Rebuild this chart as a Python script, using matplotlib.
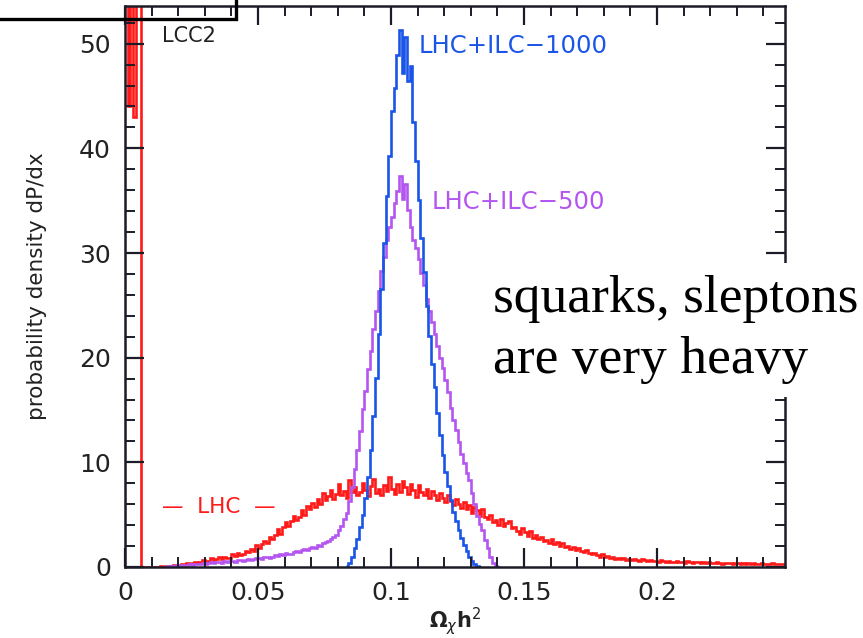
import numpy as np
import matplotlib
matplotlib.use("Agg")
import matplotlib.pyplot as plt
from matplotlib.patches import Rectangle
from matplotlib.ticker import MultipleLocator, FixedLocator

# ---- histogram data: probability density per 0.001 bin of Omega h^2 ----
BIN = 0.001

lhc_start = 0.0
lhc = [
    120, 44, 60, 43, 55, 80,
    0, 0, 0, 0, 0, 0, 0, 0.05, 0, 0.1,
    0.1, 0.05, 0.2, 0.15, 0.1, 0.3, 0.2, 0.35, 0.25, 0.4,
    0.5, 0.35, 0.45, 0.7, 0.5, 0.6, 0.85, 0.65, 0.75, 0.95,
    0.8, 1.0, 0.9, 0.85, 1.2, 1.05, 1.35, 1.1, 1.2, 1.5,
    1.45, 1.7, 1.55, 2.1, 1.8, 2.2, 2.5, 2.3, 2.9, 2.7,
    3.1, 3.6, 3.2, 3.8, 4.3, 3.9, 4.4, 4.9, 4.5, 4.8,
    5.4, 5.0, 5.8, 5.5, 6.1, 5.7, 6.5, 6.0, 7.1, 6.4,
    6.8, 7.4, 6.5, 7.0, 7.9, 6.9, 7.3, 6.6, 8.3, 7.2,
    7.6, 6.9, 7.2, 8.0, 7.4, 6.8, 7.7, 8.4, 7.1, 7.5,
    6.9, 7.8, 7.3, 8.6, 7.5, 7.0, 7.9, 7.2, 8.2, 7.6,
    7.0, 7.9, 7.4, 6.7, 7.8, 7.2, 6.9, 7.5, 6.6, 7.3,
    6.9, 6.4, 7.1, 6.6, 6.2, 6.9, 6.3, 5.9, 6.5, 6.0,
    5.6, 6.2, 5.5, 5.9, 5.2, 5.7, 5.4, 4.9, 5.5, 4.8,
    4.6, 5.0, 4.3, 4.5, 4.0, 4.6, 3.9, 4.2, 4.4, 3.7,
    3.8, 3.4, 3.2, 3.7, 3.3, 3.0, 3.4, 2.8, 3.1, 2.7,
    2.9, 2.5, 2.6, 2.3, 2.7, 2.2, 2.4, 2.0, 2.3, 1.9,
    2.0, 1.7, 1.9, 1.6, 1.8, 1.5, 1.4, 1.6, 1.3, 1.2,
    1.3, 1.1, 1.0, 1.2, 0.95, 1.05, 0.85, 0.95, 0.8, 0.9,
    0.75, 0.85, 0.7, 0.8, 0.65, 0.75, 0.7, 0.6, 0.75, 0.65,
    0.6, 0.7, 0.55, 0.6, 0.5, 0.65, 0.55, 0.5, 0.6, 0.45,
    0.5, 0.55, 0.45, 0.5, 0.4, 0.55, 0.45, 0.4, 0.5, 0.45,
    0.4, 0.5, 0.35, 0.45, 0.4, 0.35, 0.45, 0.4, 0.3, 0.4,
    0.35, 0.4, 0.3, 0.35, 0.4, 0.3, 0.35, 0.3, 0.4, 0.3,
    0.35, 0.3, 0.25, 0.35, 0.3, 0.25, 0.3, 0.35, 0.25, 0.3, 0.25, 0.3,
]

ilc500_start = 0.015
ilc500 = [
    0.05, 0.1, 0.05, 0.1, 0.15, 0.1, 0.2, 0.15, 0.2, 0.25,
    0.2, 0.3, 0.25, 0.3, 0.4, 0.3, 0.35, 0.45, 0.4, 0.5,
    0.45, 0.4, 0.55, 0.5, 0.6, 0.55, 0.5, 0.65, 0.7, 0.6,
    0.7, 0.8, 0.7, 0.75, 0.9, 0.85, 0.8, 0.95, 1.0, 0.9,
    1.0, 1.1, 1.05, 1.2, 1.1, 1.3, 1.25, 1.2, 1.4, 1.5,
    1.45, 1.6, 1.7, 1.6, 1.85, 1.9, 1.8, 2.1, 2.0, 2.3,
    2.4, 2.5, 2.7, 2.9, 3.1, 3.5, 3.9, 4.6, 5.2, 6.3,
    7.6, 9.4, 11.2, 13.0, 15.1, 16.8, 18.9, 20.6, 22.7, 24.5,
    26.4, 28.3, 29.6, 31.2, 32.5, 33.4, 34.8, 35.9, 37.4, 35.2,
    36.6, 34.1, 32.5, 31.2, 30.5, 29.4, 28.1, 26.9, 25.6, 24.5,
    23.4, 22.3, 21.1, 20.0, 19.0, 17.9, 16.7, 15.2, 14.0, 13.1,
    11.9, 10.8, 9.9, 9.0, 8.3, 7.1, 6.0, 4.9, 4.1, 3.5,
    2.6, 1.8, 1.0, 0.4, 0.1, 0,
]

ilc1000_start = 0.083
ilc1000 = [
    0.1, 0.4, 1.0, 1.8, 2.7, 3.8, 5.0, 6.6, 8.6, 11.2,
    14.4, 18.1, 22.3, 26.6, 31.0, 35.4, 39.3, 43.6, 45.8, 48.9,
    51.3, 47.2, 50.6, 46.4, 47.9, 42.5, 38.8, 35.1, 31.4, 28.2,
    24.9, 22.1, 19.4, 17.2, 14.7, 12.6, 10.7, 9.1, 7.7, 6.4,
    5.3, 4.4, 3.5, 2.8, 2.1, 1.5, 1.0, 0.6, 0.3, 0.1, 0,
]

x_ticks = [0, 0.05, 0.1, 0.15, 0.2]
x_tick_labels = ["0", "0.05", "0.1", "0.15", "0.2"]
y_ticks = [0, 10, 20, 30, 40, 50]
y_tick_labels = ["0", "10", "20", "30", "40", "50"]

RED = "#ff1a1a"
BLUE = "#1a55e8"
PURPLE = "#b455f0"
AXIS = "#1c1c28"
TEXT = "#222222"


def edges_for(start, values):
    return start + BIN * np.arange(len(values) + 1)


fig = plt.figure(figsize=(8.63, 6.38), dpi=100)
ax = fig.add_axes([125 / 863, 71 / 638, 660 / 863, 561 / 638])

ax.stairs(lhc, edges_for(lhc_start, lhc), color=RED, lw=1.9, baseline=None)
ax.stairs(ilc500, edges_for(ilc500_start, ilc500), color=PURPLE, lw=1.9, baseline=None)
ax.stairs(ilc1000, edges_for(ilc1000_start, ilc1000), color=BLUE, lw=1.9, baseline=None)

ax.set_xlim(0, 0.2481)
ax.set_ylim(0, 53.6)

ax.xaxis.set_major_locator(FixedLocator(x_ticks))
ax.set_xticklabels(x_tick_labels)
ax.yaxis.set_major_locator(FixedLocator(y_ticks))
ax.set_yticklabels(y_tick_labels)
ax.xaxis.set_minor_locator(MultipleLocator(0.01))
ax.yaxis.set_minor_locator(MultipleLocator(2))

ax.tick_params(which="both", direction="in", top=True, right=True,
               color=AXIS, labelcolor=TEXT)
ax.tick_params(which="major", length=14, width=1.6, labelsize=18)
ax.tick_params(which="minor", length=7, width=1.4)
ax.tick_params(axis="x", which="major", pad=10)
ax.tick_params(axis="y", which="major", pad=10)
for sp in ax.spines.values():
    sp.set_linewidth(1.8)
    sp.set_color(AXIS)

ax.set_ylabel("probability density dP/dx", fontsize=15.5, color=TEXT)
ax.yaxis.set_label_coords(-0.118, 0.5)
fig.text(455 / 863, (638 - 628) / 638, r"$\mathbf{\Omega}_{\chi}\mathbf{h}^{2}$",
         fontsize=15, color=TEXT, ha="center", va="baseline")

# curve annotations
ax.text(0.0139, 50.7, "LCC2", fontsize=15, color=TEXT, va="center", ha="left")
ax.text(0.1102, 49.8, "LHC+ILC\u22121000", fontsize=17.5, color=BLUE, va="center", ha="left")
ax.text(0.1154, 34.9, "LHC+ILC\u2212500", fontsize=17.5, color=PURPLE, va="center", ha="left")
ax.text(0.0352, 5.73, "\u2014  LHC  \u2014", fontsize=15.5, color=RED, va="center", ha="center")

# outline frame in the upper-left corner
fig.add_artist(Rectangle((-0.02, (638 - 19) / 638), 236 / 863 + 0.02, 0.1,
                         transform=fig.transFigure, fill=False,
                         edgecolor="black", lw=2.4, clip_on=False))

# white note panel over the right edge of the plot
fig.add_artist(Rectangle((485 / 863, (638 - 397) / 638), 0.5, 134 / 638,
                         transform=fig.transFigure, facecolor="white",
                         edgecolor="none", zorder=5))
fig.text(493 / 863, (638 - 312) / 638, "squarks, sleptons", fontsize=38.5,
         family="Liberation Serif", color="black", va="baseline", ha="left", zorder=6)
fig.text(493 / 863, (638 - 373) / 638, "are very heavy", fontsize=38.5,
         family="Liberation Serif", color="black", va="baseline", ha="left", zorder=6)

fig.savefig("out.png", dpi=100)
